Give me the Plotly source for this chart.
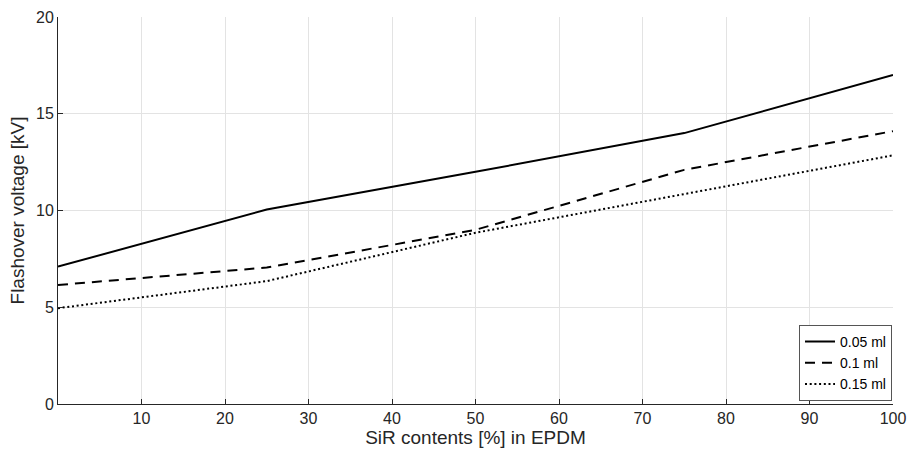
import plotly.graph_objects as go

sir_content = [0, 25, 50, 75, 100]
v_005 = [7.1, 10.05, 12.0, 14.0, 17.0]
v_01 = [6.15, 7.05, 9.0, 12.1, 14.1]
v_015 = [4.95, 6.35, 8.85, 10.85, 12.85]
series_names = ["0.05 ml", "0.1 ml", "0.15 ml"]
x_ticks = [10, 20, 30, 40, 50, 60, 70, 80, 90, 100]
y_ticks = [0, 5, 10, 15, 20]

font_family = "Liberation Sans, Arial, sans-serif"
dark = "#262626"

fig = go.Figure()
fig.add_trace(go.Scatter(x=sir_content, y=v_005, mode="lines", name=series_names[0],
                         line=dict(color="black", width=2, dash="solid")))
fig.add_trace(go.Scatter(x=sir_content, y=v_01, mode="lines", name=series_names[1],
                         line=dict(color="black", width=2, dash="10px,7px")))
fig.add_trace(go.Scatter(x=sir_content, y=v_015, mode="lines", name=series_names[2],
                         line=dict(color="black", width=2, dash="2px,2.7px")))

fig.update_layout(
    width=909, height=460,
    margin=dict(l=58, r=16, t=17, b=56),
    paper_bgcolor="white", plot_bgcolor="white",
    font=dict(family=font_family, size=13, color=dark),
    showlegend=True,
    legend=dict(x=0.9988, xanchor="right", y=0.008, yanchor="bottom",
                bgcolor="white", bordercolor="#555555", borderwidth=1,
                font=dict(size=14, color="black"), tracegroupgap=0,
                itemwidth=30),
    xaxis=dict(range=[0, 100], tickvals=x_ticks, ticks="inside", ticklen=5,
               tickcolor=dark, showline=True, linecolor=dark, linewidth=1,
               mirror=False, showgrid=True, gridcolor="#e3e3e3", gridwidth=1,
               zeroline=False, tickfont=dict(size=16), automargin=False,
               title=dict(text="SiR contents [%] in EPDM", font=dict(size=19), standoff=2)),
    yaxis=dict(range=[0, 20], tickvals=y_ticks, ticks="inside", ticklen=5,
               tickcolor=dark, showline=True, linecolor=dark, linewidth=1,
               mirror=False, showgrid=True, gridcolor="#e3e3e3", gridwidth=1,
               zeroline=False, tickfont=dict(size=16), automargin=False,
               title=dict(text="Flashover voltage [kV]", font=dict(size=19), standoff=6)),
)

fig.write_html("out.html")
